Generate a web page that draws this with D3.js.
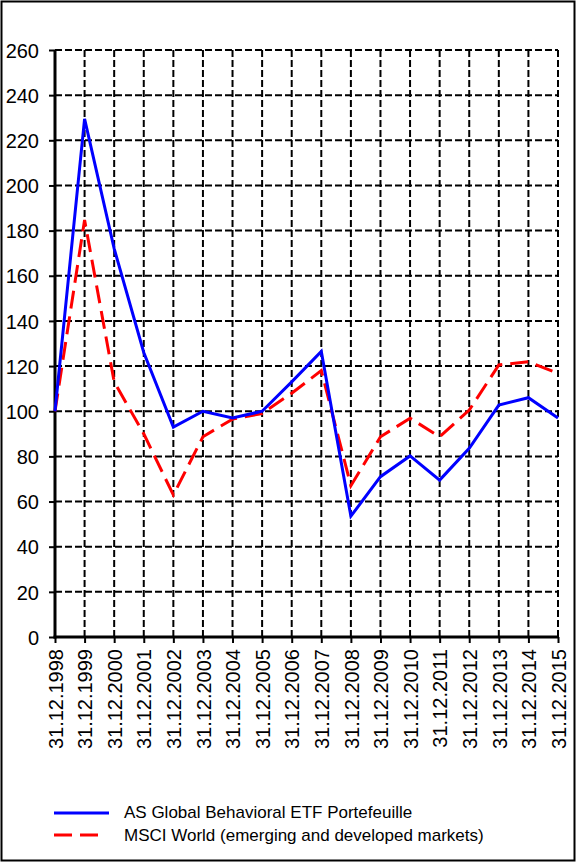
<!DOCTYPE html>
<html><head><meta charset="utf-8">
<script src="https://cdn.jsdelivr.net/npm/d3@7"></script>
<style>body{margin:0;background:#fff}svg{display:block}text{font-family:"Liberation Sans",Arial,sans-serif;fill:#000}</style>
</head><body>
<script>
const categories = ["31.12.1998","31.12.1999","31.12.2000","31.12.2001","31.12.2002","31.12.2003","31.12.2004","31.12.2005","31.12.2006","31.12.2007","31.12.2008","31.12.2009","31.12.2010","31.12.2011","31.12.2012","31.12.2013","31.12.2014","31.12.2015"];
const etfValues = [100,229.5,172,126,93,100,97,100,113,126.5,53.5,71,80.2,69.5,83.6,102.7,106,97];
const msciValues = [100,184.7,113,90,62.9,88.7,96.5,99,108,118,67,88.7,96.9,88.7,100.5,120.5,121.9,116.8];
const yTicks = [0,20,40,60,80,100,120,140,160,180,200,220,240,260];
const seriesNames = ["AS Global Behavioral ETF Portefeuille","MSCI World (emerging and developed markets)"];

const W=576,H=862;
const svg=d3.select("body").append("svg").attr("width",W).attr("height",H);
svg.append("rect").attr("x",1.5).attr("y",1.5).attr("width",W-3).attr("height",H-3).attr("fill","#fff").attr("stroke","#000").attr("stroke-width",2);

const L=55,R=558,T=50,B=637;
const x=d3.scalePoint().domain(categories).range([L,R]);
const y=d3.scaleLinear().domain([0,260]).range([B,T]);

// grid
const g=svg.append("g");
g.selectAll(".hg").data(yTicks.filter(d=>d>0)).join("line")
 .attr("x1",L).attr("x2",R).attr("y1",d=>y(d)).attr("y2",d=>y(d))
 .attr("stroke","#000").attr("stroke-width",2).attr("stroke-dasharray","7,3");
g.selectAll(".vg").data(categories.slice(1)).join("line")
 .attr("x1",d=>x(d)).attr("x2",d=>x(d)).attr("y1",T).attr("y2",B)
 .attr("stroke","#000").attr("stroke-width",2).attr("stroke-dasharray","7,3");

// axes
const ya=svg.append("g").attr("transform",`translate(${L},0)`)
 .call(d3.axisLeft(y).tickValues(yTicks).tickSize(6).tickPadding(3));
ya.select(".domain").remove();
ya.selectAll(".tick line").attr("stroke","#000").attr("stroke-width",2);
ya.selectAll(".tick text").attr("font-size",20).attr("x",-16).attr("dy","0.36em")
 .attr("text-anchor","end").style("font-family","Liberation Sans, Arial, sans-serif");

const xa=svg.append("g").attr("transform",`translate(0,${B})`)
 .call(d3.axisBottom(x).tickSize(6).tickPadding(3));
xa.select(".domain").remove();
xa.selectAll(".tick line").attr("stroke","#000").attr("stroke-width",2);
xa.selectAll(".tick text").attr("font-size",20).attr("text-anchor","end")
 .attr("transform","rotate(-90)").attr("x",-12).attr("y",0).attr("dy","0.36em")
 .style("font-family","Liberation Sans, Arial, sans-serif");

svg.append("line").attr("x1",L).attr("x2",L).attr("y1",T).attr("y2",B+1.5).attr("stroke","#000").attr("stroke-width",3);
svg.append("line").attr("x1",L-1.5).attr("x2",R).attr("y1",B).attr("y2",B).attr("stroke","#000").attr("stroke-width",3);

const line=d3.line().x((d,i)=>x(categories[i])).y(d=>y(d));
svg.append("path").datum(msciValues).attr("d",line).attr("fill","none")
 .attr("stroke","#ff0000").attr("stroke-width",3).attr("stroke-dasharray","18,8");
svg.append("path").datum(etfValues).attr("d",line).attr("fill","none")
 .attr("stroke","#0000ff").attr("stroke-width",3).attr("stroke-linejoin","miter");

// legend
const leg=svg.append("g");
leg.append("line").attr("x1",54).attr("x2",109).attr("y1",813).attr("y2",813).attr("stroke","#0000ff").attr("stroke-width",3);
leg.append("line").attr("x1",54).attr("x2",100).attr("y1",835).attr("y2",835).attr("stroke","#ff0000").attr("stroke-width",3).attr("stroke-dasharray","18,8");
leg.append("text").attr("x",124).attr("y",818).attr("font-size",17).text(seriesNames[0]);
leg.append("text").attr("x",124).attr("y",841).attr("font-size",17).text(seriesNames[1]);
</script>
</body></html>
